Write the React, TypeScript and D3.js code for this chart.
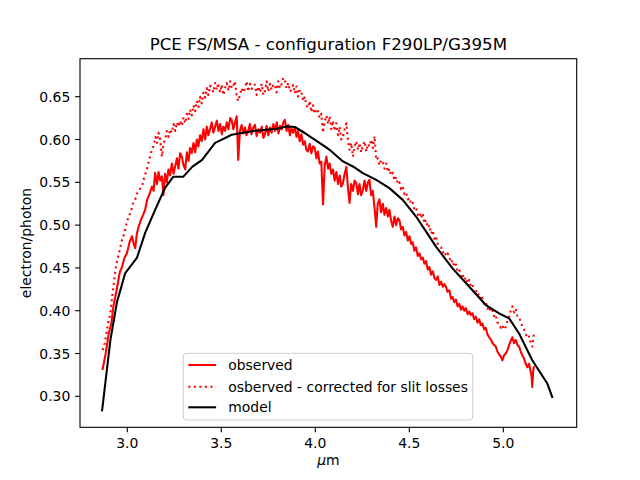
import React from "react";
import * as d3 from "d3";

const obsX = [2.869,2.885,2.901,2.915,2.926,2.936,2.948,2.960,2.972,2.985,2.998,3.012,3.025,3.034,3.042,3.051,3.060,3.072,3.084,3.095,3.106,3.118,3.131,3.140,3.148,3.158,3.166,3.175,3.184,3.192,3.201,3.210,3.219,3.228,3.237,3.246,3.255,3.264,3.272,3.281,3.290,3.299,3.308,3.317,3.326,3.334,3.343,3.352,3.361,3.370,3.378,3.387,3.396,3.405,3.414,3.423,3.431,3.440,3.449,3.458,3.467,3.476,3.485,3.494,3.503,3.511,3.520,3.529,3.538,3.547,3.555,3.564,3.573,3.582,3.590,3.599,3.608,3.617,3.626,3.634,3.643,3.652,3.661,3.670,3.679,3.688,3.697,3.706,3.715,3.724,3.732,3.741,3.750,3.759,3.768,3.777,3.786,3.795,3.804,3.813,3.821,3.830,3.838,3.847,3.856,3.865,3.873,3.882,3.891,3.900,3.908,3.917,3.926,3.935,3.944,3.952,3.961,3.970,3.979,3.988,3.997,4.006,4.014,4.023,4.032,4.041,4.050,4.059,4.068,4.076,4.085,4.094,4.103,4.112,4.121,4.130,4.138,4.147,4.156,4.165,4.173,4.182,4.191,4.200,4.209,4.218,4.227,4.235,4.244,4.253,4.262,4.271,4.280,4.288,4.297,4.306,4.315,4.324,4.332,4.341,4.350,4.359,4.368,4.377,4.386,4.394,4.403,4.412,4.421,4.430,4.439,4.447,4.456,4.465,4.474,4.483,4.492,4.501,4.510,4.518,4.527,4.536,4.545,4.554,4.563,4.572,4.580,4.589,4.598,4.607,4.616,4.625,4.634,4.642,4.651,4.660,4.669,4.678,4.687,4.695,4.704,4.713,4.722,4.730,4.739,4.748,4.757,4.766,4.775,4.783,4.792,4.801,4.810,4.819,4.827,4.836,4.845,4.854,4.863,4.872,4.880,4.889,4.898,4.907,4.916,4.925,4.934,4.943,4.952,4.960,4.969,4.978,4.987,4.995,5.004,5.013,5.022,5.031,5.040,5.048,5.057,5.066,5.075,5.084,5.093,5.101,5.110,5.119,5.128,5.137,5.146,5.150,5.154,5.159,5.163];
const obsY = [0.332,0.350,0.373,0.385,0.405,0.416,0.430,0.445,0.451,0.462,0.467,0.480,0.487,0.478,0.473,0.490,0.498,0.506,0.512,0.518,0.530,0.536,0.545,0.540,0.561,0.548,0.562,0.552,0.557,0.535,0.560,0.550,0.565,0.558,0.572,0.560,0.569,0.578,0.566,0.584,0.580,0.570,0.565,0.585,0.575,0.590,0.584,0.596,0.585,0.600,0.592,0.605,0.598,0.612,0.600,0.615,0.605,0.612,0.620,0.608,0.615,0.622,0.610,0.618,0.606,0.615,0.610,0.620,0.612,0.625,0.623,0.612,0.620,0.627,0.576,0.610,0.617,0.607,0.614,0.605,0.610,0.618,0.606,0.614,0.617,0.604,0.612,0.608,0.615,0.602,0.606,0.616,0.605,0.614,0.608,0.618,0.610,0.620,0.607,0.616,0.612,0.620,0.623,0.610,0.617,0.605,0.613,0.608,0.614,0.603,0.610,0.598,0.606,0.594,0.598,0.588,0.586,0.595,0.584,0.592,0.590,0.578,0.586,0.572,0.574,0.524,0.570,0.580,0.566,0.572,0.560,0.565,0.552,0.562,0.548,0.558,0.545,0.549,0.560,0.568,0.545,0.526,0.548,0.540,0.552,0.549,0.536,0.548,0.535,0.541,0.552,0.540,0.550,0.553,0.535,0.540,0.520,0.498,0.525,0.530,0.515,0.525,0.512,0.520,0.510,0.518,0.505,0.498,0.510,0.500,0.508,0.506,0.495,0.498,0.488,0.492,0.482,0.487,0.478,0.480,0.470,0.474,0.464,0.467,0.460,0.462,0.455,0.458,0.448,0.451,0.442,0.446,0.438,0.436,0.440,0.430,0.434,0.428,0.431,0.428,0.422,0.424,0.414,0.416,0.410,0.413,0.405,0.408,0.401,0.405,0.400,0.403,0.396,0.399,0.395,0.397,0.390,0.393,0.386,0.390,0.383,0.385,0.378,0.380,0.372,0.369,0.366,0.362,0.360,0.358,0.352,0.349,0.346,0.342,0.348,0.350,0.354,0.360,0.365,0.369,0.362,0.366,0.360,0.358,0.352,0.348,0.344,0.338,0.334,0.338,0.328,0.324,0.311,0.330,0.334];

const corX = [2.869,2.880,2.890,2.900,2.910,2.920,2.930,2.940,2.950,2.961,2.972,2.984,2.996,3.007,3.018,3.030,3.042,3.054,3.066,3.078,3.090,3.104,3.115,3.127,3.139,3.150,3.158,3.166,3.175,3.184,3.192,3.201,3.210,3.219,3.228,3.237,3.246,3.255,3.264,3.272,3.281,3.290,3.299,3.308,3.317,3.326,3.334,3.343,3.352,3.361,3.370,3.379,3.387,3.396,3.405,3.414,3.423,3.431,3.440,3.449,3.458,3.467,3.476,3.484,3.493,3.502,3.511,3.520,3.529,3.538,3.547,3.556,3.564,3.573,3.582,3.590,3.599,3.608,3.617,3.626,3.635,3.643,3.652,3.661,3.670,3.679,3.688,3.697,3.706,3.715,3.724,3.732,3.741,3.750,3.759,3.768,3.777,3.785,3.794,3.803,3.812,3.821,3.830,3.838,3.847,3.856,3.865,3.873,3.882,3.891,3.900,3.908,3.917,3.926,3.935,3.944,3.952,3.961,3.970,3.979,3.988,3.997,4.006,4.014,4.023,4.032,4.041,4.050,4.059,4.068,4.076,4.085,4.094,4.103,4.112,4.121,4.130,4.138,4.147,4.156,4.165,4.173,4.182,4.191,4.200,4.209,4.218,4.227,4.235,4.244,4.253,4.262,4.271,4.280,4.288,4.297,4.306,4.315,4.324,4.332,4.341,4.350,4.359,4.368,4.377,4.386,4.394,4.403,4.412,4.421,4.430,4.439,4.447,4.456,4.465,4.474,4.483,4.492,4.501,4.510,4.518,4.527,4.536,4.545,4.554,4.563,4.571,4.580,4.589,4.598,4.607,4.616,4.625,4.634,4.642,4.651,4.660,4.669,4.678,4.687,4.695,4.704,4.713,4.722,4.730,4.739,4.748,4.757,4.766,4.775,4.783,4.792,4.801,4.810,4.819,4.827,4.836,4.845,4.854,4.863,4.872,4.880,4.889,4.898,4.907,4.916,4.925,4.934,4.943,4.952,4.960,4.969,4.978,4.987,4.995,5.004,5.013,5.022,5.031,5.040,5.048,5.057,5.066,5.075,5.084,5.093,5.101,5.110,5.119,5.128,5.137,5.146,5.154,5.159,5.163];
const corY = [0.354,0.362,0.375,0.388,0.397,0.418,0.435,0.452,0.462,0.472,0.483,0.490,0.502,0.510,0.515,0.525,0.530,0.538,0.542,0.545,0.556,0.565,0.575,0.585,0.592,0.603,0.596,0.608,0.600,0.580,0.595,0.600,0.610,0.603,0.612,0.608,0.618,0.610,0.620,0.615,0.622,0.616,0.626,0.619,0.630,0.624,0.635,0.628,0.640,0.633,0.645,0.638,0.650,0.642,0.655,0.649,0.660,0.652,0.663,0.660,0.655,0.666,0.658,0.666,0.655,0.664,0.652,0.660,0.666,0.657,0.668,0.660,0.663,0.668,0.650,0.645,0.652,0.660,0.655,0.660,0.668,0.656,0.665,0.659,0.664,0.664,0.652,0.662,0.655,0.665,0.652,0.656,0.668,0.656,0.665,0.658,0.664,0.664,0.655,0.668,0.660,0.665,0.672,0.670,0.660,0.666,0.656,0.658,0.664,0.654,0.662,0.650,0.658,0.656,0.645,0.650,0.640,0.637,0.645,0.632,0.640,0.630,0.636,0.633,0.625,0.630,0.608,0.621,0.628,0.618,0.627,0.612,0.622,0.610,0.619,0.605,0.615,0.600,0.604,0.612,0.619,0.600,0.588,0.596,0.580,0.592,0.598,0.588,0.596,0.585,0.592,0.598,0.586,0.595,0.592,0.600,0.590,0.604,0.576,0.578,0.570,0.576,0.574,0.566,0.572,0.562,0.566,0.558,0.561,0.552,0.556,0.548,0.550,0.542,0.545,0.536,0.538,0.530,0.532,0.524,0.526,0.518,0.520,0.512,0.515,0.508,0.514,0.502,0.506,0.497,0.500,0.490,0.494,0.484,0.487,0.478,0.475,0.474,0.468,0.470,0.464,0.467,0.463,0.456,0.459,0.451,0.454,0.446,0.448,0.440,0.443,0.436,0.439,0.432,0.436,0.428,0.430,0.422,0.425,0.418,0.420,0.412,0.415,0.408,0.410,0.402,0.405,0.398,0.400,0.392,0.394,0.386,0.385,0.380,0.383,0.378,0.381,0.388,0.393,0.400,0.405,0.398,0.402,0.394,0.393,0.386,0.382,0.378,0.373,0.368,0.370,0.362,0.358,0.368,0.373];

const modelX = [2.866,2.910,2.945,2.989,3.051,3.095,3.148,3.201,3.244,3.297,3.345,3.398,3.467,3.484,3.555,3.679,3.794,3.847,3.891,3.944,3.970,4.050,4.076,4.147,4.200,4.253,4.324,4.394,4.465,4.536,4.607,4.642,4.730,4.819,4.907,4.978,5.031,5.084,5.154,5.234,5.260];
const modelY = [0.2836,0.3656,0.410,0.444,0.4616,0.4909,0.5178,0.5436,0.5564,0.5564,0.568,0.5763,0.596,0.5978,0.6056,0.6103,0.6126,0.6153,0.6146,0.6076,0.6036,0.5919,0.5880,0.5744,0.5685,0.5608,0.5529,0.5432,0.5295,0.5100,0.4865,0.4748,0.4495,0.4280,0.4066,0.3968,0.3910,0.3734,0.3422,0.3149,0.2992];

const xTicks = [3.0, 3.5, 4.0, 4.5, 5.0];
const yTicks = [0.3, 0.35, 0.4, 0.45, 0.5, 0.55, 0.6, 0.65];
const legendLabels = ["observed", "osberved - corrected for slit losses", "model"];

const W = 640, H = 480;
const L = 80, R = 576.7, T = 58.7, B = 427.3;
const FONT = "'DejaVu Sans', sans-serif";

export default function App() {
  const x = d3.scaleLinear().domain([2.7484, 5.3903]).range([L, R]);
  const y = d3.scaleLinear().domain([0.2638, 0.6944]).range([B, T]);
  const line = d3.line<[number, number]>().x(d => x(d[0])).y(d => y(d[1]));
  const obs = obsX.map((v, i) => [v, obsY[i]] as [number, number]);
  const cor = corX.map((v, i) => [v, corY[i]] as [number, number]);
  const mod = modelX.map((v, i) => [v, modelY[i]] as [number, number]);
  const lw = 2.08;
  const legendY = [365, 386.7, 407.3];
  const legendStyles = [
    { stroke: "#ff0000", dash: undefined },
    { stroke: "#ff0000", dash: "2.08 3.44" },
    { stroke: "#000000", dash: undefined },
  ];
  return (
    <svg width={W} height={H} style={{ position: "absolute", left: 0, top: 0, background: "#fff" }} fontFamily={FONT}>
      <rect x={0} y={0} width={W} height={H} fill="#fff" />
      <defs>
        <clipPath id="plotclip">
          <rect x={L} y={T} width={R - L} height={B - T} />
        </clipPath>
      </defs>
      <g clipPath="url(#plotclip)" fill="none" strokeWidth={lw} strokeLinejoin="round">
        <path d={line(obs) || ""} stroke="#ff0000" strokeLinecap="square" />
        <path d={line(cor) || ""} stroke="#ff0000" strokeDasharray="2.08 3.44" strokeLinecap="butt" />
        <path d={line(mod) || ""} stroke="#000000" strokeLinecap="square" />
      </g>
      <rect x={L} y={T} width={R - L} height={B - T} fill="none" stroke="#000" strokeWidth={1.1} />
      {xTicks.map(t => (
        <g key={"x" + t}>
          <line x1={x(t)} x2={x(t)} y1={B} y2={B + 4.9} stroke="#000" strokeWidth={1.1} />
          <text x={x(t)} y={448} textAnchor="middle" fontSize={13.9} fill="#000">{t.toFixed(1)}</text>
        </g>
      ))}
      {yTicks.map(t => (
        <g key={"y" + t}>
          <line x1={L - 4.9} x2={L} y1={y(t)} y2={y(t)} stroke="#000" strokeWidth={1.1} />
          <text x={70.3} y={y(t) + 5.1} textAnchor="end" fontSize={13.9} fill="#000">{t.toFixed(2)}</text>
        </g>
      ))}
      <text x={(L + R) / 2} y={50.3} textAnchor="middle" fontSize={16.67} fill="#000">PCE FS/MSA - configuration F290LP/G395M</text>
      <text x={(L + R) / 2} y={465} textAnchor="middle" fontSize={13.9} fill="#000">
        <tspan fontStyle="italic">μ</tspan>m
      </text>
      <text transform={`translate(31,${(T + B) / 2}) rotate(-90)`} textAnchor="middle" fontSize={13.9} fill="#000">electron/photon</text>
      <g>
        <rect x={183.3} y={353.3} width={289.4} height={66.7} rx={3} ry={3} fill="#fff" fillOpacity={0.8} stroke="#cccccc" strokeWidth={1} />
        {legendLabels.map((lab, i) => (
          <g key={lab}>
            <line x1={188.3} x2={216.1} y1={legendY[i]} y2={legendY[i]} stroke={legendStyles[i].stroke} strokeWidth={lw} strokeDasharray={legendStyles[i].dash} />
            <text x={228.3} y={legendY[i] + 5} fontSize={13.9} fill="#000">{lab}</text>
          </g>
        ))}
      </g>
    </svg>
  );
}
